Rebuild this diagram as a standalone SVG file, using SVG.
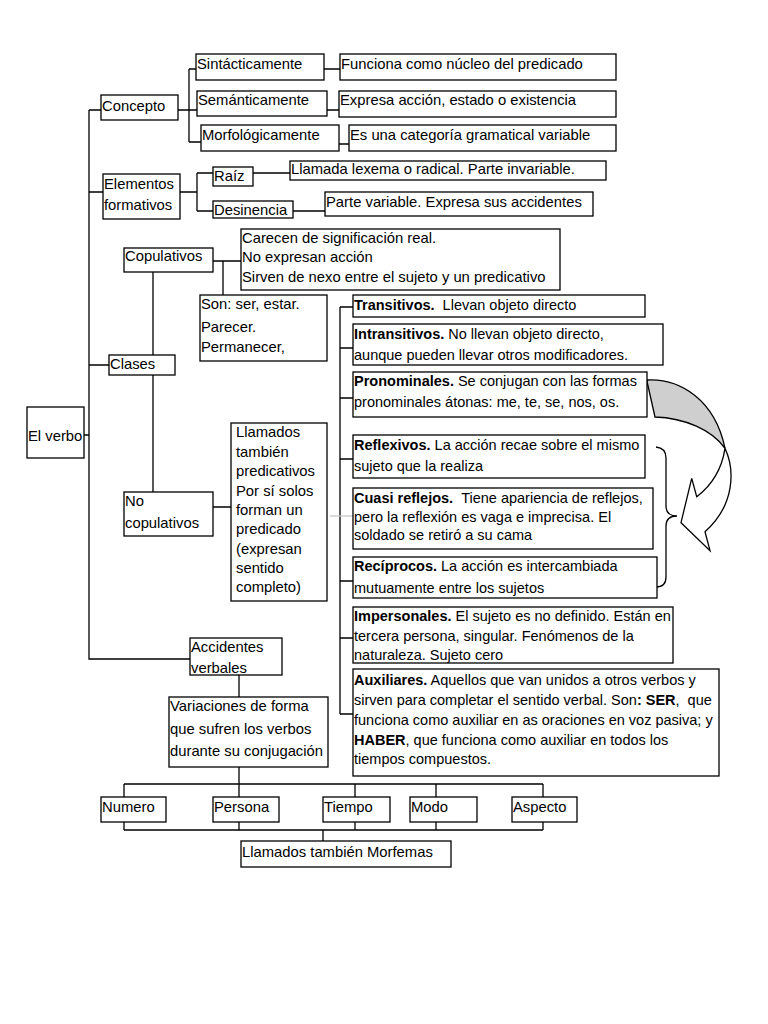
<svg xmlns="http://www.w3.org/2000/svg" width="768" height="1024" viewBox="0 0 768 1024">
<style>
.b{fill:#fff;stroke:#000;stroke-width:1.3}
.c{fill:none;stroke:#000;stroke-width:1.3}
text{font-family:"Liberation Sans",Arial,sans-serif;font-size:14.8px;fill:#000}
.r text{font-size:14.5px}
.bd{font-weight:bold}
</style>
<rect width="768" height="1024" fill="#fff"/>
<g id="connectors" class="c">
<path d="M89,110 V659 H190"/>
<path d="M89,110 H101 M89,192 H103 M89,365 H109 M84,435 H89"/>
<path d="M178,110 H189 M189,69 V142 M189,69 H196 M189,110 H197 M189,142 H201"/>
<path d="M324,69 H340 M327,110 H339 M339,144 H349"/>
<path d="M180,192 H197 M197,173 V211 M197,173 H213 M197,211 H213"/>
<path d="M253,173 H290 M293,211 H325"/>
<path d="M213,261 H241 M223,261 V295"/>
<path d="M153,272 V492 M213,507 H231"/>
<path d="M340,307 V714 M340,307 H353 M340,348 H353 M340,398 H353 M340,459 H353 M340,581 H353 M340,638 H353 M340,714 H353"/>
<path d="M330,516 H353" stroke="#c8c8c8"/>
<path d="M239,675 V697 M239,767 V784 M124,784 H543 M124,784 V797 M239,784 V797 M355,784 V797 M436,784 V797 M543,784 V797"/>
<path d="M124,822 V830 M239,822 V830 M355,822 V830 M436,822 V830 M543,822 V830 M124,830 H543 M323,830 V841"/>
</g>
<g id="brace-arrow">
<path class="c" d="M656,447 Q666,448 666,458 L666,506 Q666,516 677,516 Q666,516 666,526 L666,577 Q666,587 656,587"/>
<path d="M646.7,380 C680,378 715,400 725,448.3 C712,430 685,418 655,417 Z" fill="#cfcfcf" stroke="#000" stroke-width="1.3"/>
<path d="M725,448.3 C735,470 735,505 705,531.7 L710,550.7 L681,522.7 L691.7,478.3 L696.7,496.7 C712,485 722,468 725,448.3 Z" fill="#fff" stroke="#000" stroke-width="1.3"/>
</g>
<g id="n-verbo"><rect class="b" x="27" y="407" width="57" height="51"/><text x="28" y="441">El verbo</text></g>
<g id="n-concepto"><rect class="b" x="101" y="95" width="77" height="25"/><text x="102" y="111">Concepto</text></g>
<g id="n-sint"><rect class="b" x="196" y="54" width="128" height="26"/><text x="197" y="69">Sintácticamente</text></g>
<g id="n-sem"><rect class="b" x="197" y="91" width="130" height="25"/><text x="198" y="105">Semánticamente</text></g>
<g id="n-morf"><rect class="b" x="201" y="125" width="138" height="26"/><text x="202" y="140">Morfológicamente</text></g>
<g id="n-funciona"><rect class="b" x="340" y="54" width="276" height="26"/><text x="341" y="69">Funciona como núcleo del predicado</text></g>
<g id="n-expresa"><rect class="b" x="339" y="91" width="277" height="26"/><text x="340" y="105">Expresa acción, estado o existencia</text></g>
<g id="n-esuna"><rect class="b" x="349" y="125" width="267" height="26"/><text x="350" y="140">Es una categoría gramatical variable</text></g>
<g id="n-elementos"><rect class="b" x="103" y="174" width="77" height="45"/><text x="104" y="189">Elementos</text><text x="104" y="210">formativos</text></g>
<g id="n-raiz"><rect class="b" x="213" y="167" width="40" height="19"/><text x="214" y="181">Raíz</text></g>
<g id="n-llamada"><rect class="b" x="290" y="161" width="316" height="19"/><text x="291" y="174">Llamada lexema o radical. Parte invariable.</text></g>
<g id="n-desinencia"><rect class="b" x="213" y="201" width="80" height="17"/><text x="214" y="215">Desinencia</text></g>
<g id="n-parte"><rect class="b" x="325" y="192" width="268" height="24"/><text x="326" y="207">Parte variable. Expresa sus accidentes</text></g>
<g id="n-copulativos"><rect class="b" x="124" y="248" width="89" height="24"/><text x="125" y="261">Copulativos</text></g>
<g id="n-carecen"><rect class="b" x="241" y="229" width="319" height="61"/><text x="242" y="243">Carecen de significación real.</text><text x="242" y="262">No expresan acción</text><text x="242" y="282">Sirven de nexo entre el sujeto y un predicativo</text></g>
<g id="n-son"><rect class="b" x="200" y="295" width="127" height="66"/><text x="201" y="309">Son: ser, estar.</text><text x="201" y="332">Parecer.</text><text x="201" y="352">Permanecer,</text></g>
<g id="n-clases"><rect class="b" x="109" y="355" width="66" height="20"/><text x="110" y="369">Clases</text></g>
<g id="n-nocop"><rect class="b" x="124" y="492" width="89" height="44"/><text x="125" y="506">No</text><text x="125" y="528">copulativos</text></g>
<g id="n-llamados"><rect class="b" x="231" y="423" width="96" height="178"/><text x="236" y="437">Llamados</text><text x="236" y="457">también</text><text x="236" y="476">predicativos</text><text x="236" y="496">Por sí solos</text><text x="236" y="515">forman un</text><text x="236" y="534">predicado</text><text x="236" y="554">(expresan</text><text x="236" y="573">sentido</text><text x="236" y="592">completo)</text></g>
<g id="n-transitivos" class="r"><rect class="b" x="353" y="295" width="292" height="22"/><text x="354" y="310"><tspan class="bd">Transitivos.</tspan><tspan dx="8">Llevan objeto directo</tspan></text></g>
<g id="n-intransitivos" class="r"><rect class="b" x="353" y="324" width="310" height="41"/><text x="354" y="338.5"><tspan class="bd">Intransitivos.</tspan> No llevan objeto directo,</text><text x="354" y="359.5">aunque pueden llevar otros modificadores.</text></g>
<g id="n-pronominales" class="r"><rect class="b" x="353" y="372" width="294" height="45"/><text x="354" y="386"><tspan class="bd">Pronominales.</tspan> Se conjugan con las formas</text><text x="354" y="407">pronominales átonas: me, te, se, nos, os.</text></g>
<g id="n-reflexivos" class="r"><rect class="b" x="353" y="435" width="292" height="43"/><text x="354" y="450"><tspan class="bd">Reflexivos.</tspan> La acción recae sobre el mismo</text><text x="354" y="471">sujeto que la realiza</text></g>
<g id="n-cuasi" class="r"><rect class="b" x="353" y="488" width="300" height="61"/><text x="354" y="503"><tspan class="bd">Cuasi reflejos.</tspan><tspan dx="8">Tiene apariencia de reflejos,</tspan></text><text x="354" y="522">pero la reflexión es vaga e imprecisa. El</text><text x="354" y="540">soldado se retiró a su cama</text></g>
<g id="n-reciprocos" class="r"><rect class="b" x="353" y="557" width="304" height="41"/><text x="354" y="571"><tspan class="bd">Recíprocos.</tspan> La acción es intercambiada</text><text x="354" y="593">mutuamente entre los sujetos</text></g>
<g id="n-impersonales" class="r"><rect class="b" x="353" y="607" width="320" height="56"/><text x="354" y="621"><tspan class="bd">Impersonales.</tspan> El sujeto es no definido. Están en</text><text x="354" y="641">tercera persona, singular. Fenómenos de la</text><text x="354" y="660">naturaleza. Sujeto cero</text></g>
<g id="n-auxiliares" class="r"><rect class="b" x="353" y="669" width="366" height="107"/><text x="354" y="685"><tspan class="bd">Auxiliares.</tspan> Aquellos que van unidos a otros verbos y</text><text x="354" y="705">sirven para completar el sentido verbal. Son<tspan class="bd">: SER</tspan>,<tspan dx="8">que</tspan></text><text x="354" y="725">funciona como auxiliar en as oraciones en voz pasiva; y</text><text x="354" y="745"><tspan class="bd">HABER</tspan>, que funciona como auxiliar en todos los</text><text x="354" y="764">tiempos compuestos.</text></g>
<g id="n-accidentes"><rect class="b" x="190" y="638" width="92" height="37"/><text x="191" y="652">Accidentes</text><text x="191" y="673">verbales</text></g>
<g id="n-variaciones"><rect class="b" x="169" y="697" width="159" height="70"/><text x="170" y="711">Variaciones de forma</text><text x="170" y="734">que sufren los verbos</text><text x="170" y="756">durante su conjugación</text></g>
<g id="n-numero"><rect class="b" x="101" y="797" width="65" height="25"/><text x="102" y="812">Numero</text></g>
<g id="n-persona"><rect class="b" x="213" y="797" width="66" height="25"/><text x="214" y="812">Persona</text></g>
<g id="n-tiempo"><rect class="b" x="323" y="797" width="67" height="25"/><text x="324" y="812">Tiempo</text></g>
<g id="n-modo"><rect class="b" x="410" y="797" width="67" height="25"/><text x="411" y="812">Modo</text></g>
<g id="n-aspecto"><rect class="b" x="512" y="797" width="65" height="25"/><text x="513" y="812">Aspecto</text></g>
<g id="n-morfemas"><rect class="b" x="241" y="841" width="210" height="26"/><text x="242" y="857">Llamados también Morfemas</text></g>
</svg>
